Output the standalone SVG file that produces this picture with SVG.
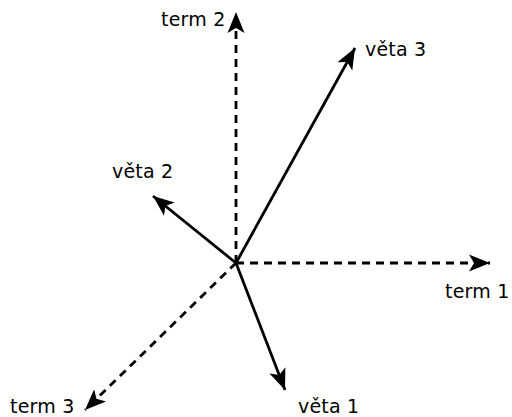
<svg xmlns="http://www.w3.org/2000/svg" width="512" height="417" viewBox="0 0 512 417">
<style>
.ln{stroke:#000;stroke-width:2.8;fill:none;marker-end:url(#ah)}
.d{stroke-dasharray:8 6}
text{font-family:"DejaVu Sans",Verdana,sans-serif;font-size:19px;letter-spacing:0.2px;fill:#000}
</style>
<defs>
<marker id="ah" markerUnits="userSpaceOnUse" markerWidth="24" markerHeight="20" refX="21" refY="8.5" orient="auto" viewBox="0 0 24 17">
<path d="M21,8.5 L0,0 L5,8.5 L0,17 Z" fill="#000"/>
</marker>
</defs>
<g id="connectors">
<line class="ln d" x1="236" y1="263" x2="236" y2="12"/>
<line class="ln d" x1="236" y1="263" x2="490" y2="263"/>
<line class="ln d" x1="236" y1="263" x2="85" y2="410"/>
<line class="ln" x1="236" y1="263" x2="355" y2="48"/>
<line class="ln" x1="236" y1="263" x2="153" y2="196"/>
<line class="ln" x1="236" y1="263" x2="285" y2="390"/>
</g>
<g id="term2"><text x="161" y="26">term 2</text></g>
<g id="veta3"><text x="365" y="56">věta 3</text></g>
<g id="veta2"><text x="112" y="178">věta 2</text></g>
<g id="term1"><text x="445" y="298">term 1</text></g>
<g id="term3"><text x="10" y="413">term 3</text></g>
<g id="veta1"><text x="298" y="413">věta 1</text></g>
</svg>
